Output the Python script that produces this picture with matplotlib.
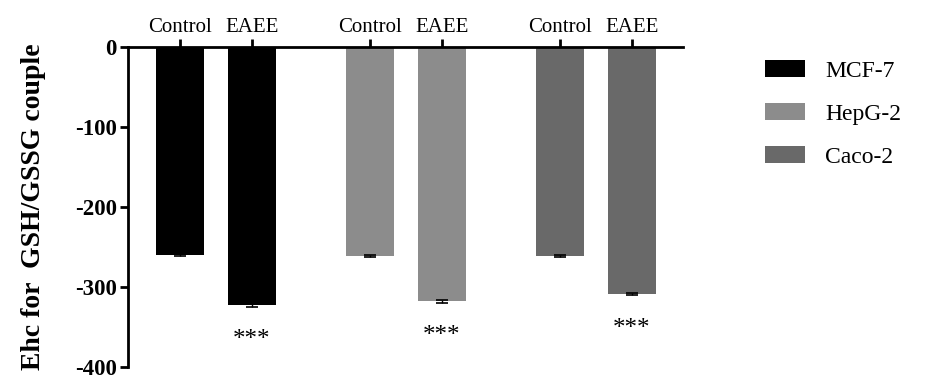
import matplotlib
matplotlib.use("Agg")
import matplotlib.pyplot as plt
import numpy as np

cell_lines = ["MCF-7", "HepG-2", "Caco-2"]
treatments = ["Control", "EAEE"]
values = {
    "MCF-7": [-260, -323],
    "HepG-2": [-261, -318],
    "Caco-2": [-261, -309],
}
errors = {
    "MCF-7": [1.5, 1.5],
    "HepG-2": [1.5, 1.5],
    "Caco-2": [1.5, 1.0],
}
colors = {"MCF-7": "#000000", "HepG-2": "#8c8c8c", "Caco-2": "#696969"}
significance = "***"
yticks = [0, -100, -200, -300, -400]

plt.rcParams['font.family'] = ['Liberation Serif', 'DejaVu Serif']

fig = plt.figure(figsize=(9.25, 3.8), dpi=100)
ax = fig.add_axes([128/925, 13/380, 555/925, 320/380])

group_gap = 190
inner_gap = 72
bar_w = 48
xt, xl = [], []
handles = []
for g, cl in enumerate(cell_lines):
    xs = [g*group_gap + i*inner_gap for i in range(len(treatments))]
    b = ax.bar(xs, values[cl], width=bar_w, color=colors[cl], label=cl,
               yerr=errors[cl], error_kw=dict(ecolor='black', capsize=4, elinewidth=1, capthick=1.2))
    handles.append(b)
    xt += xs
    xl += treatments
    ax.text(xs[1], values[cl][1] - 43, significance, ha='center', va='center', fontsize=18)

ax.set_xlim(-52, 503)
ax.set_ylim(-400, 0)
ax.set_yticks(yticks)
ax.set_yticklabels([str(v) for v in yticks], fontsize=16.5, fontweight='bold')
ax.set_xticks(xt)
ax.set_xticklabels(xl, fontsize=15)
ax.xaxis.tick_top()
ax.spines['bottom'].set_visible(False)
ax.spines['right'].set_visible(False)
ax.spines['top'].set_linewidth(2)
ax.spines['left'].set_linewidth(2)
ax.tick_params(axis='y', direction='out', length=6, width=2, pad=2)
ax.tick_params(axis='x', direction='out', length=6, width=2, pad=1)
ax.set_ylabel("Ehc for  GSH/GSSG couple", fontsize=20, fontweight='bold', labelpad=21)

fig.legend(handles=handles, labels=cell_lines, loc='upper left', bbox_to_anchor=(765/925, 1 - 60/380),
           frameon=False, fontsize=17, handlelength=1.7, handleheight=0.72, labelspacing=0.9,
           handletextpad=0.85, borderpad=0, borderaxespad=0)

fig.savefig("out.png", dpi=100)
